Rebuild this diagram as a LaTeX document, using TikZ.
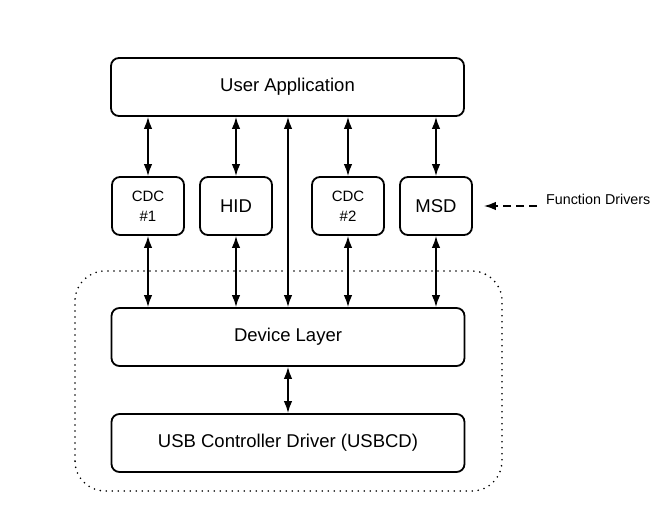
\documentclass[tikz,border=0pt]{standalone}
\usepackage{fontspec}
\setmainfont{Liberation Sans}
\usetikzlibrary{arrows.meta,positioning}

\begin{document}
\begin{tikzpicture}[x=1pt,y=1pt,
  capa/.style={draw,line width=1.8pt,rounded corners=8pt,minimum width=353pt,minimum height=58pt,font=\fontsize{18.5}{20}\selectfont},
  driver/.style={draw,line width=1.8pt,rounded corners=8pt,minimum width=72pt,minimum height=58pt,align=center,font=\fontsize{18.5}{20}\selectfont},
  flecha/.style={line width=1.6pt,{Latex[length=12pt,width=8.5pt]}-{Latex[length=12pt,width=8.5pt]}}]
  \useasboundingbox (0,0) rectangle (659,508);

  % Capas principales
  \node[capa] (app) at (287.5,421) {User Application};
  \node[capa] (dev) at (288,171) {Device Layer};
  \node[capa] (usbcd) at (288,65) {USB Controller Driver (USBCD)};

  % Drivers de funcion
  \node[driver,font=\fontsize{15}{20}\selectfont] (cdc1) at (148,302) {CDC\\\#1};
  \node[driver] (hid) at (236,302) {HID};
  \node[driver,font=\fontsize{15}{20}\selectfont] (cdc2) at (348,302) {CDC\\\#2};
  \node[driver] (msd) at (436,302) {MSD};

  % Flechas entre capas
  \foreach \d in {cdc1,hid,cdc2,msd} {
    \draw[flecha] (\d.north) -- (\d.north |- app.south);
    \draw[flecha] (\d.south) -- (\d.south |- dev.north);
  }
  \draw[flecha] (dev.north) -- (dev.north |- app.south);
  \draw[flecha] (usbcd.north) -- (dev.south);

  % Recuadro punteado
  \draw[line width=1.8pt,line cap=round,dash pattern=on 0pt off 6pt,rounded corners=30pt] (75,17) rectangle (502,237);

  % Etiqueta lateral
  \node[anchor=base west,inner sep=0pt,font=\fontsize{14.3}{16}\selectfont] (fd) at (546,303) {Function Drivers};
  \coordinate (fdtail) at (537,302);
  \coordinate (fdhead) at ([xshift=11pt]msd.east);
  \draw[line width=1.6pt,dash pattern=on 8pt off 5pt,-{Latex[length=12pt,width=8.5pt]}] (fdtail) -- (fdhead);
\end{tikzpicture}
\end{document}
